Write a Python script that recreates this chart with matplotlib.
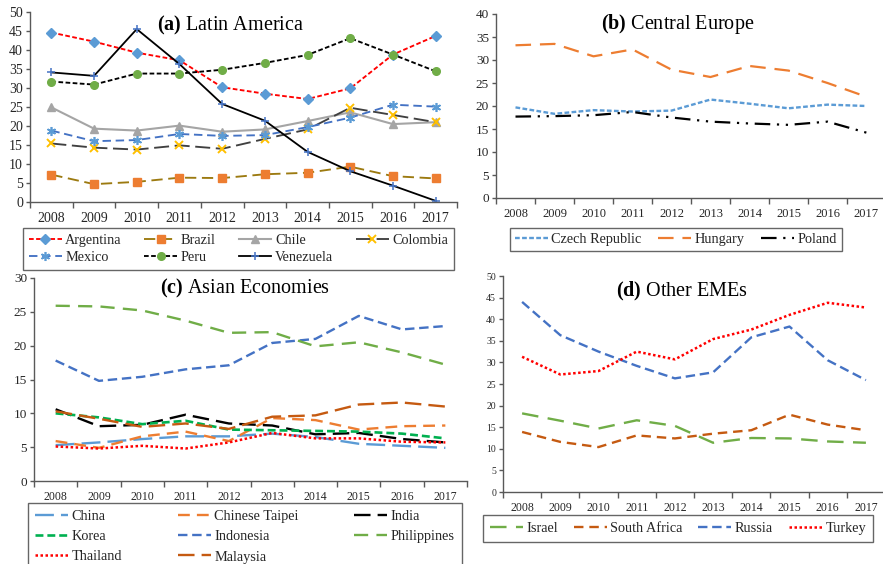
import matplotlib
matplotlib.use("Agg")
import matplotlib.pyplot as plt
import numpy as np

plt.rcParams['font.family'] = ['Liberation Serif', 'DejaVu Serif']
plt.rcParams['mathtext.fontset'] = 'custom'
plt.rcParams['mathtext.rm'] = 'Liberation Serif'
plt.rcParams['mathtext.bf'] = 'Liberation Serif:bold'

years = ['2008', '2009', '2010', '2011', '2012', '2013', '2014', '2015', '2016', '2017']

# (a) Latin America
argentina = [44.6, 42.2, 39.3, 37.3, 30.2, 28.5, 27.1, 29.9, 38.8, 43.7]
brazil = [7.2, 4.7, 5.3, 6.4, 6.3, 7.3, 7.7, 9.3, 6.8, 6.2]
chile = [24.9, 19.3, 18.8, 20.1, 18.5, 19.1, 21.3, 23.6, 20.5, 21.0]
colombia = [15.4, 14.3, 13.8, 14.9, 14.0, 16.6, 19.1, 24.8, 22.9, 21.0]
mexico = [18.8, 16.0, 16.3, 17.9, 17.4, 17.6, 19.7, 22.2, 25.6, 25.1]
peru = [31.7, 30.9, 33.8, 33.8, 34.8, 36.6, 38.7, 43.1, 38.8, 34.4]
venezuela = [34.1, 33.2, 45.5, 36.3, 25.8, 21.4, 13.2, 8.1, 4.3, 0.3]

# (b) Central Europe
czech = [19.7, 18.3, 19.1, 18.8, 19.0, 21.4, 20.5, 19.5, 20.3, 20.0]
hungary = [33.2, 33.5, 30.8, 32.3, 27.9, 26.3, 28.7, 27.7, 25.0, 22.0]
poland = [17.7, 17.8, 18.0, 18.7, 17.5, 16.6, 16.2, 15.9, 16.6, 14.2]

# (c) Asian Economies
china = [5.3, 5.7, 6.2, 6.6, 6.6, 7.0, 6.5, 5.5, 5.2, 4.9]
taipei = [5.9, 4.9, 6.6, 7.3, 5.9, 9.3, 9.0, 7.6, 8.1, 8.2]
india = [10.6, 8.1, 8.3, 9.8, 8.5, 8.2, 6.9, 7.1, 6.2, 5.7]
korea = [10.0, 9.4, 8.4, 8.9, 7.6, 7.5, 7.4, 7.3, 7.0, 6.3]
indonesia = [17.8, 14.8, 15.4, 16.5, 17.1, 20.4, 21.0, 24.4, 22.4, 22.9]
philippines = [25.9, 25.8, 25.2, 23.7, 21.9, 22.0, 19.9, 20.5, 19.0, 17.2]
thailand = [5.1, 4.8, 5.2, 4.8, 5.7, 7.1, 6.3, 6.3, 5.8, 5.7]
malaysia = [10.3, 9.2, 8.0, 8.5, 7.7, 9.5, 9.7, 11.3, 11.6, 11.0]

# (d) Other EMEs
israel = [18.2, 16.5, 14.7, 16.6, 15.3, 11.4, 12.5, 12.4, 11.7, 11.4]
south_africa = [13.9, 11.6, 10.4, 13.1, 12.4, 13.5, 14.3, 17.9, 15.6, 14.3]
russia = [44.0, 36.3, 32.5, 29.2, 26.3, 27.7, 35.8, 38.3, 30.5, 25.9]
turkey = [31.3, 27.2, 28.0, 32.5, 30.7, 35.4, 37.6, 41.0, 43.8, 42.7]

W, H = 883, 564
fig = plt.figure(figsize=(W / 100, H / 100), dpi=100)

def px_axes(x0, x1, y_top, y_bot):
    return fig.add_axes([x0 / W, 1 - y_bot / H, (x1 - x0) / W, (y_bot - y_top) / H])

SPINE = '#595959'
TXT = '#262626'

def style(ax, ymax, ystep, xfs, yfs):
    n = len(years)
    ax.set_xlim(-0.5, n - 0.5)
    ax.set_ylim(0, ymax)
    ax.set_xticks(np.arange(-0.5, n, 1.0))
    ax.set_xticklabels([])
    ax.set_xticks(np.arange(n), minor=True)
    ax.set_xticklabels(years, minor=True, fontsize=xfs, color=TXT)
    ax.tick_params(axis='x', which='major', length=4, width=1, color=SPINE, direction='out')
    ax.tick_params(axis='x', which='minor', length=0, pad=7)
    ax.set_yticks(np.arange(0, ymax + 0.01, ystep))
    ax.tick_params(axis='y', length=3, width=1, color=SPINE, labelsize=yfs, labelcolor=TXT, pad=2)
    for s in ('top', 'right'):
        ax.spines[s].set_visible(False)
    for s in ('left', 'bottom'):
        ax.spines[s].set_color(SPINE)
        ax.spines[s].set_linewidth(1.0)
    ax.patch.set_alpha(0)

def title(ax, letter, name, x, y):
    ax.text(x, y, r'$\mathbf{(' + letter + r')}$ ' + name, transform=ax.transAxes,
            ha='center', va='center', fontsize=14.5, color='black')

def legend(ax, handles, x0, x1, y_top, ncol, ls=0.25, hl=2.3, bp=0.35):
    leg = fig.legend(handles=handles, loc='upper left',
                     bbox_to_anchor=(x0 / W, 1 - y_top / H, (x1 - x0) / W, 0.0),
                     mode='expand', ncol=ncol, fontsize=10.3, frameon=True, fancybox=False,
                     borderaxespad=0, handlelength=hl, handletextpad=0.25,
                     labelspacing=ls, borderpad=bp, columnspacing=0.5)
    leg.get_frame().set_edgecolor('#404040')
    leg.get_frame().set_linewidth(1.0)
    for t in leg.get_texts():
        t.set_color(TXT)
    return leg

x = np.arange(len(years))

# ---------- (a)
LW_A = 1.35
axa = px_axes(30, 457, 12, 202)
ha_arg, = axa.plot(x, argentina, color='#FF0000', lw=LW_A, dashes=(2.5, 1.3), marker='D',
                   ms=4.8, mfc='#5B9BD5', mec='#5B9BD5', label='Argentina')
ha_bra, = axa.plot(x, brazil, color='#9C7A10', lw=LW_A, dashes=(6, 3), marker='s',
                   ms=6, mfc='#ED7D31', mec='#ED7D31', label='Brazil')
ha_chi, = axa.plot(x, chile, color='#A5A5A5', lw=1.5, marker='^',
                   ms=5.5, mfc='#A5A5A5', mec='#A5A5A5', label='Chile')
ha_col, = axa.plot(x, colombia, color='#404040', lw=LW_A, dashes=(8, 3), marker='x',
                   ms=5.5, mew=1.4, mfc='#FFC000', mec='#FFC000', label='Colombia')
ha_mex, = axa.plot(x, mexico, color='#4472C4', lw=LW_A, dashes=(4.5, 2.5), marker=(6, 2, 0),
                   ms=6.5, mew=1.2, mec='#5B9BD5', label='Mexico')
ha_per, = axa.plot(x, peru, color='#000000', lw=LW_A, dashes=(2.5, 1.3), marker='o',
                   ms=5.5, mfc='#70AD47', mec='#70AD47', label='Peru')
ha_ven, = axa.plot(x, venezuela, color='#000000', lw=1.3, marker='+',
                   ms=5.5, mew=1.1, mec='#4472C4', label='Venezuela')
style(axa, 50, 5, 10, 10)
title(axa, 'a', 'Latin America', 0.47, 0.93)
legend(axa, [ha_arg, ha_mex, ha_bra, ha_per, ha_chi, ha_ven, ha_col], 23, 454, 228, 4,
       ls=0.3, bp=0.4)

# ---------- (b)
axb = px_axes(496, 886, 14, 198)
hb1, = axb.plot(x, czech, color='#5B9BD5', lw=1.7, dashes=(2, 1), label='Czech Republic')
hb2, = axb.plot(x, hungary, color='#ED7D31', lw=1.6, dashes=(7, 4), label='Hungary')
hb3, = axb.plot(x, poland, color='#000000', lw=1.6, dashes=(7, 3, 1, 3, 1, 3), label='Poland')
style(axb, 40, 5, 9, 9.5)
title(axb, 'b', 'Central Europe', 0.465, 0.945)
legend(axb, [hb1, hb2, hb3], 510, 842, 228, 3)

# ---------- (c)
LW_C = 1.7
axc = px_axes(34, 467, 278, 481)
hc1, = axc.plot(x, china, color='#5B9BD5', lw=LW_C, dashes=(8, 3), label='China')
hc2, = axc.plot(x, taipei, color='#ED7D31', lw=LW_C, dashes=(5, 3), label='Chinese Taipei')
hc3, = axc.plot(x, india, color='#000000', lw=LW_C, dashes=(7, 3), label='India')
hc4, = axc.plot(x, korea, color='#00B050', lw=1.9, dashes=(3, 1.5), label='Korea')
hc5, = axc.plot(x, indonesia, color='#4472C4', lw=LW_C, dashes=(4, 2), label='Indonesia')
hc6, = axc.plot(x, philippines, color='#70AD47', lw=LW_C, dashes=(6, 3.5), label='Philippines')
hc7, = axc.plot(x, thailand, color='#FF0000', lw=1.8, dashes=(1, 1), label='Thailand')
hc8, = axc.plot(x, malaysia, color='#C55A11', lw=LW_C, dashes=(7, 3), label='Malaysia')
style(axc, 30, 5, 8.5, 9.5)
title(axc, 'c', 'Asian Economies', 0.487, 0.95)
legend(axc, [hc1, hc4, hc7, hc2, hc5, hc8, hc3, hc6], 28, 462, 503, 3, ls=0.5, bp=0.5)

# ---------- (d)
LW_D = 1.7
axd = px_axes(503, 885, 276, 492)
hd1, = axd.plot(x, israel, color='#70AD47', lw=LW_D, dashes=(7, 4), label='Israel')
hd2, = axd.plot(x, south_africa, color='#C55A11', lw=LW_D, dashes=(4, 2.5), label='South Africa')
hd3, = axd.plot(x, russia, color='#4472C4', lw=LW_D, dashes=(4, 2), label='Russia')
hd4, = axd.plot(x, turkey, color='#FF0000', lw=1.8, dashes=(1, 1), label='Turkey')
style(axd, 50, 5, 8.5, 7)
title(axd, 'd', 'Other EMEs', 0.47, 0.93)
legend(axd, [hd1, hd2, hd3, hd4], 483, 873, 515, 4, bp=0.5)

fig.savefig('out.png', dpi=100)
